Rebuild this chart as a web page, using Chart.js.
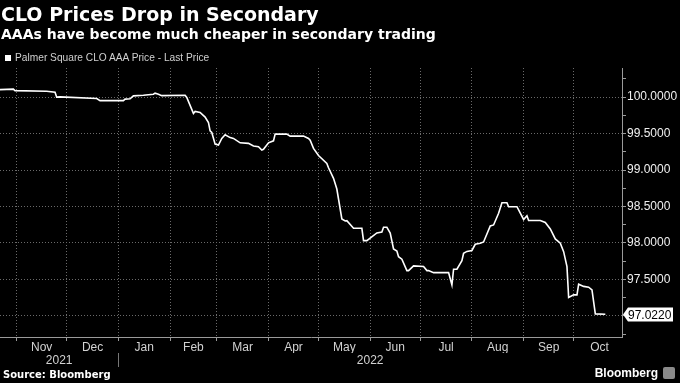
<!DOCTYPE html>
<html>
<head>
<meta charset="utf-8">
<title>CLO Prices Drop in Secondary</title>
<script src="https://cdn.jsdelivr.net/npm/chart.js@4.4.0/dist/chart.umd.min.js"></script>
<style>
  html, body { margin: 0; padding: 0; background: #000; }
  #wrap { position: relative; width: 680px; height: 383px; overflow: hidden; background: #000; }
  #chart { position: absolute; left: 0; top: 0; }
  .title { position: absolute; left: 1px; top: 5px; font: bold 19px/19px "DejaVu Sans", sans-serif; color: #fff; white-space: nowrap; }
  .subtitle { position: absolute; left: 1px; top: 27px; font: bold 14px/14px "DejaVu Sans", sans-serif; color: #fff; white-space: nowrap; }
  .legend { position: absolute; left: 5px; top: 53px; font: 10.2px/10px "Liberation Sans", Arial, sans-serif; color: #d0d0d0; white-space: nowrap; }
  .legend i { display: inline-block; width: 6px; height: 6px; background: #fff; margin-right: 4px; vertical-align: 0; }
  .source { position: absolute; left: 3px; top: 370px; font: bold 10px/10px "DejaVu Sans", sans-serif; color: #fff; }
  .brand { position: absolute; right: 22px; top: 367px; font: bold 12px/12px "Liberation Sans", Arial, sans-serif; color: #fff; }
  .brand-icon { position: absolute; left: 663px; top: 367px; width: 12px; height: 12px; background: #8a8a8a; border-radius: 2px; }
</style>
</head>
<body>
<div id="wrap">
  <canvas id="chart" width="680" height="383"></canvas>
  <div class="title">CLO Prices Drop in Secondary</div>
  <div class="subtitle">AAAs have become much cheaper in secondary trading</div>
  <div class="legend"><i></i>Palmer Square CLO AAA Price - Last Price</div>
  <div class="source">Source: Bloomberg</div>
  <div class="brand">Bloomberg</div>
  <div class="brand-icon"></div>
</div>

<script>
// ==============================
// DATA
// ==============================
const dates = [
  "2021-10-22", "2021-10-30", "2021-10-31", "2021-11-19", "2021-11-24", "2021-11-25", "2021-11-27", "2021-12-19", "2021-12-21",
  "2022-01-04", "2022-01-05", "2022-01-08", "2022-01-10", "2022-01-16", "2022-01-22", "2022-01-23", "2022-01-25", "2022-01-27",
  "2022-02-10", "2022-02-11", "2022-02-15", "2022-02-16", "2022-02-19", "2022-02-22", "2022-02-24", "2022-02-25", "2022-02-26", "2022-02-28",
  "2022-03-02", "2022-03-04", "2022-03-06", "2022-03-09", "2022-03-11", "2022-03-15", "2022-03-20", "2022-03-23", "2022-03-26", "2022-03-28", "2022-03-29",
  "2022-04-01", "2022-04-04", "2022-04-05", "2022-04-12", "2022-04-14", "2022-04-22", "2022-04-25", "2022-04-26", "2022-04-28",
  "2022-05-01", "2022-05-06", "2022-05-07", "2022-05-10", "2022-05-12", "2022-05-13", "2022-05-15", "2022-05-17", "2022-05-18", "2022-05-22", "2022-05-27", "2022-05-28", "2022-05-30",
  "2022-06-05", "2022-06-08", "2022-06-09", "2022-06-11", "2022-06-13", "2022-06-15", "2022-06-17", "2022-06-18", "2022-06-20", "2022-06-23", "2022-06-24", "2022-06-27",
  "2022-07-03", "2022-07-05", "2022-07-06", "2022-07-09", "2022-07-18", "2022-07-20", "2022-07-21", "2022-07-23", "2022-07-26", "2022-07-27", "2022-07-29",
  "2022-08-01", "2022-08-03", "2022-08-06", "2022-08-08", "2022-08-12", "2022-08-14", "2022-08-17", "2022-08-19", "2022-08-22", "2022-08-23", "2022-08-28",
  "2022-09-01", "2022-09-03", "2022-09-04", "2022-09-11", "2022-09-14", "2022-09-17", "2022-09-20", "2022-09-23", "2022-09-25", "2022-09-27", "2022-09-28",
  "2022-10-01", "2022-10-03", "2022-10-04", "2022-10-07", "2022-10-10", "2022-10-12", "2022-10-14", "2022-10-20"
];

const prices = [
  100.103, 100.110, 100.089, 100.082, 100.068, 100.000, 100.004, 99.982, 99.952,
  99.952, 99.973, 99.977, 100.018, 100.027, 100.041, 100.055, 100.041, 100.021,
  100.027, 99.996, 99.777, 99.804, 99.790, 99.726, 99.653, 99.538, 99.516, 99.356,
  99.342, 99.434, 99.484, 99.445, 99.434, 99.374, 99.366, 99.329, 99.319, 99.274, 99.284,
  99.374, 99.401, 99.493, 99.493, 99.466, 99.466, 99.434, 99.411, 99.297,
  99.199, 99.092, 99.032, 98.886, 98.740, 98.603, 98.329, 98.301, 98.305, 98.201, 98.201, 98.032, 98.032,
  98.137, 98.151, 98.215, 98.215, 98.137, 97.918, 97.890, 97.812, 97.777, 97.621, 97.621, 97.685,
  97.678, 97.621, 97.623, 97.593, 97.593, 97.425, 97.640, 97.640, 97.758, 97.859, 97.884,
  97.897, 97.982, 97.996, 98.014, 98.233, 98.247, 98.407, 98.552, 98.552, 98.497, 98.497,
  98.322, 98.374, 98.308, 98.308, 98.281, 98.192, 98.055, 97.996, 97.881, 97.675, 97.253,
  97.288, 97.288, 97.434, 97.404, 97.393, 97.356, 97.027, 97.022
];

// axis range and tick labels
const axisStart = "2021-10-22";
const axisEnd = "2022-10-30";
const monthStarts = [
  "2021-11-01", "2021-12-01", "2022-01-01", "2022-02-01", "2022-03-01", "2022-04-01",
  "2022-05-01", "2022-06-01", "2022-07-01", "2022-08-01", "2022-09-01", "2022-10-01", "2022-11-01"
];
const monthLabels = ["Nov", "Dec", "Jan", "Feb", "Mar", "Apr", "May", "Jun", "Jul", "Aug", "Sep", "Oct"];
const yearStarts = ["2021-01-01", "2022-01-01", "2023-01-01"];
const yearLabels = ["2021", "2022"];
const yTicks = [96.75, 97.0, 97.25, 97.5, 97.75, 98.0, 98.25, 98.5, 98.75, 99.0, 99.25, 99.5, 99.75, 100.0, 100.25];
const yMin = 96.71;
const yMax = 100.40;

// ==============================
// HELPERS
// ==============================
const DAY = 86400000;
const dayNum = (s) => Date.parse(s + "T00:00:00Z") / DAY;

const xMin = dayNum(axisStart);
const xMax = dayNum(axisEnd);
const lastPrice = prices[prices.length - 1];

const GRID = "#6a6a6a";
const AXIS = "#9a9a9a";
const FONT = "'Liberation Sans', Arial, sans-serif";

// month gridlines at month starts, labels centred in each month
const monthGrid = new Set();
const monthLabelAt = new Map();
const xTicks = [];
monthLabels.forEach((label, i) => {
    const start = dayNum(monthStarts[i]);
    const end = dayNum(monthStarts[i + 1]);
    if (start >= xMin && start <= xMax) {
        monthGrid.add(start);
        xTicks.push(start);
    }
    const mid = (start + end) / 2;
    monthLabelAt.set(mid, label);
    xTicks.push(mid);
});

// year labels centred on the visible part of each year, separator at year change
const yearLabelAt = new Map();
const yearSeparators = new Set();
const yearTicks = [];
yearLabels.forEach((label, i) => {
    const start = Math.max(dayNum(yearStarts[i]), xMin);
    const end = Math.min(dayNum(yearStarts[i + 1]), xMax);
    const mid = (start + end) / 2;
    yearLabelAt.set(mid, label);
    yearTicks.push(mid);
    if (i > 0) {
        yearSeparators.add(start);
        yearTicks.push(start);
    }
});

const isMajorY = (v) => Math.abs(v * 2 - Math.round(v * 2)) < 1e-6;

// ==============================
// LAST PRICE TAG
// ==============================
const lastPriceTag = {
    id: "lastPriceTag",
    afterDraw(chart) {
        const { ctx, chartArea, scales } = chart;
        const y = Math.round(scales.y.getPixelForValue(lastPrice)) + 0.5;
        const x = chartArea.right;
        ctx.save();
        ctx.fillStyle = "#fff";
        ctx.beginPath();
        ctx.moveTo(x + 1, y);
        ctx.lineTo(x + 6, y - 7);
        ctx.lineTo(x + 51, y - 7);
        ctx.lineTo(x + 51, y + 7);
        ctx.lineTo(x + 6, y + 7);
        ctx.closePath();
        ctx.fill();
        ctx.fillStyle = "#000";
        ctx.font = "12px " + FONT;
        ctx.textBaseline = "middle";
        ctx.fillText(lastPrice.toFixed(4), x + 6, y + 1);
        ctx.restore();
    }
};

// ==============================
// CHART
// ==============================
new Chart(document.getElementById("chart"), {
    type: "line",
    data: {
        datasets: [{
            label: "Palmer Square CLO AAA Price - Last Price",
            data: dates.map((d, i) => ({ x: dayNum(d), y: prices[i] })),
            borderColor: "#ffffff",
            borderWidth: 1.6,
            pointRadius: 0,
            tension: 0,
            fill: false
        }]
    },
    options: {
        responsive: false,
        animation: false,
        devicePixelRatio: 1,
        layout: { padding: { top: 68, left: 0, right: 0, bottom: 10 } },
        plugins: { legend: { display: false }, tooltip: { enabled: false } },
        scales: {
            x: {
                type: "linear",
                position: "bottom",
                weight: 0,
                min: xMin,
                max: xMax,
                afterBuildTicks: (s) => { s.ticks = xTicks.map(v => ({ value: v })); },
                afterFit: (s) => { s.height = 16; },
                grid: {
                    color: (ctx) => ctx.tick && monthGrid.has(ctx.tick.value) ? GRID : "transparent",
                    tickColor: (ctx) => ctx.tick && monthGrid.has(ctx.tick.value) ? AXIS : "transparent",
                    tickLength: 4,
                    lineWidth: 1
                },
                border: { display: true, color: AXIS, dash: [1, 2] },
                ticks: {
                    autoSkip: false,
                    maxRotation: 0,
                    padding: -1,
                    color: "#d2d2d2",
                    font: { family: FONT, size: 12 },
                    callback: (v) => monthLabelAt.get(v) || ""
                }
            },
            years: {
                type: "linear",
                position: "bottom",
                weight: 1,
                min: xMin,
                max: xMax,
                afterBuildTicks: (s) => { s.ticks = yearTicks.map(v => ({ value: v })); },
                afterFit: (s) => { s.height = 20; },
                grid: {
                    display: true,
                    drawOnChartArea: false,
                    drawTicks: true,
                    tickLength: 14,
                    color: "transparent",
                    tickColor: (ctx) => ctx.tick && yearSeparators.has(ctx.tick.value) ? "#777" : "transparent"
                },
                border: { display: false },
                ticks: {
                    autoSkip: false,
                    maxRotation: 0,
                    padding: -14,
                    color: "#d2d2d2",
                    font: { family: FONT, size: 12 },
                    callback: (v) => yearLabelAt.get(v) || ""
                }
            },
            y: {
                type: "linear",
                position: "right",
                min: yMin,
                max: yMax,
                afterBuildTicks: (s) => { s.ticks = yTicks.map(v => ({ value: v })); },
                afterFit: (s) => { s.width = 58; },
                grid: {
                    color: (ctx) => ctx.tick && isMajorY(ctx.tick.value) ? GRID : "transparent",
                    tickColor: AXIS,
                    tickLength: 4,
                    lineWidth: 1
                },
                border: { display: true, color: AXIS, dash: [1, 2] },
                ticks: {
                    padding: 1,
                    color: "#f0f0f0",
                    font: { family: FONT, size: 12 },
                    callback: (v) => isMajorY(v) && Math.abs(v - lastPrice) > 0.15 ? v.toFixed(4) : ""
                }
            }
        }
    },
    plugins: [lastPriceTag]
});
</script>
</body>
</html>
